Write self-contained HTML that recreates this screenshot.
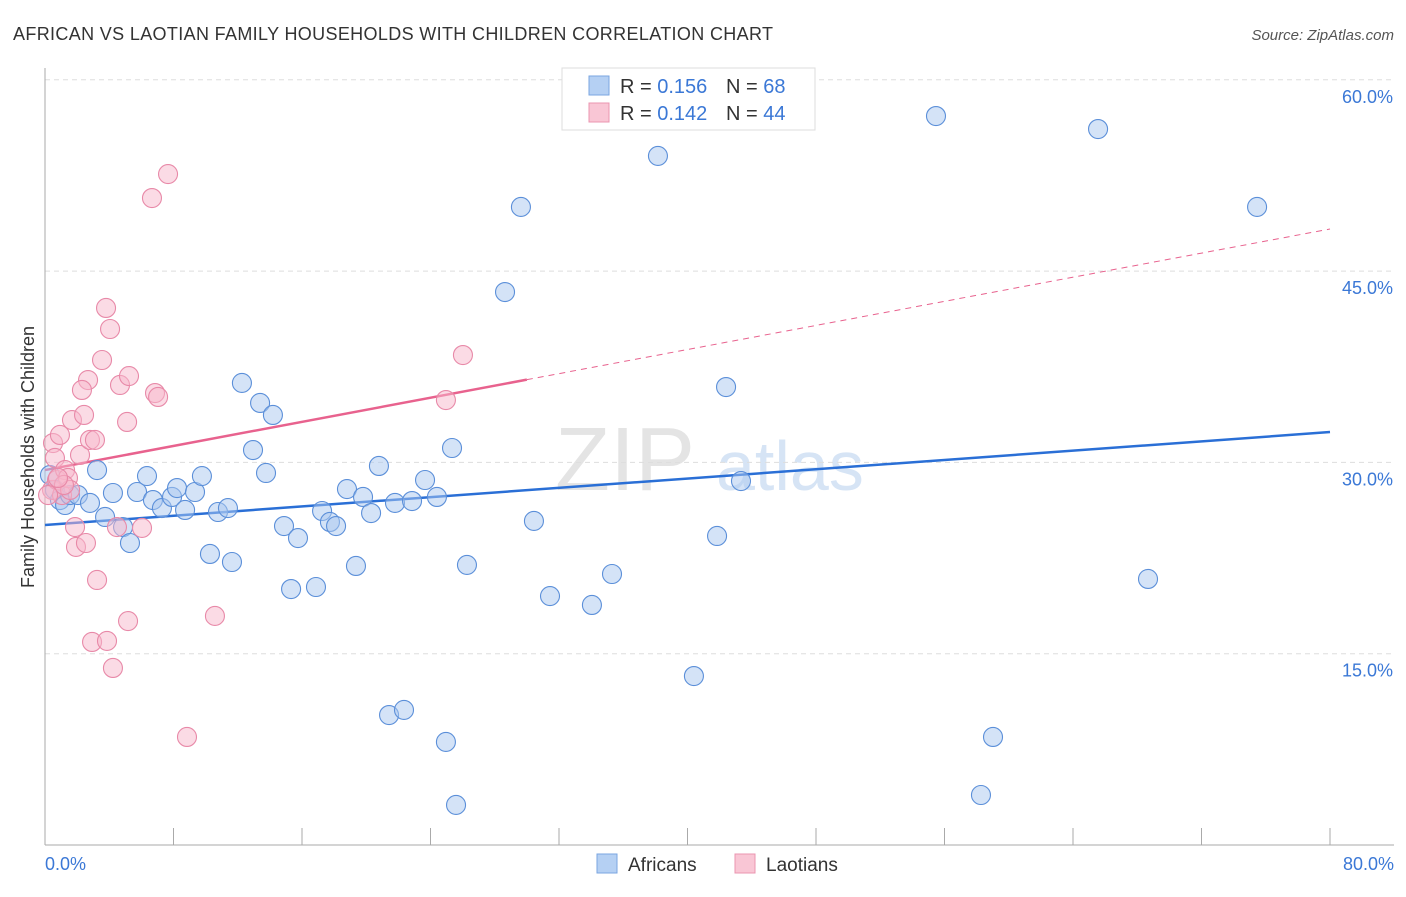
<!DOCTYPE html>
<html><head><meta charset="utf-8"><style>
body{margin:0;background:#fff;font-family:"Liberation Sans",sans-serif}
svg text{font-family:"Liberation Sans",sans-serif}
</style></head><body>
<svg id="c" width="1406" height="892" viewBox="0 0 1406 892">
<text x="13" y="40" font-size="18" fill="#333" textLength="760">AFRICAN VS LAOTIAN FAMILY HOUSEHOLDS WITH CHILDREN CORRELATION CHART</text>
<text x="1394" y="40" font-size="15" fill="#555" text-anchor="end" font-style="italic">Source: ZipAtlas.com</text>
<text x="34" y="457" font-size="18" fill="#333" text-anchor="middle" transform="rotate(-90 34 457)">Family Households with Children</text>
<text x="555" y="490" font-size="90" fill="#e4e4e4" font-family="Liberation Serif">ZIP</text>
<text x="716" y="490" font-size="70" fill="#d6e4f5">atlas</text>
<g id="grid"></g><g id="axes"></g><g id="lines"></g><g id="pts"></g>
<g>
<rect x="562" y="68" width="253" height="62" fill="#fff" stroke="#ddd"/>
<rect x="589" y="76" width="20" height="19" fill="#b5d0f3" stroke="#7aa6e0"/>
<rect x="589" y="103" width="20" height="19" fill="#f9c6d5" stroke="#eb95b0"/>
<text x="620" y="93" font-size="20" fill="#333">R = <tspan fill="#3b78d6">0.156</tspan></text>
<text x="726" y="93" font-size="20" fill="#333">N = <tspan fill="#3b78d6"> 68</tspan></text>
<text x="620" y="120" font-size="20" fill="#333">R = <tspan fill="#3b78d6">0.142</tspan></text>
<text x="726" y="120" font-size="20" fill="#333">N = <tspan fill="#3b78d6"> 44</tspan></text>
</g>
<g>
<rect x="597" y="854" width="20" height="19" fill="#b5d0f3" stroke="#7aa6e0"/>
<text x="628" y="871" font-size="19" fill="#333">Africans</text>
<text x="766" y="871" font-size="19" fill="#333">Laotians</text>
<rect x="735" y="854" width="20" height="19" fill="#f9c6d5" stroke="#eb95b0"/>
</g>
</svg>
<script>
const yTicks=[15,30,45,60];
const yTickLabels=["15.0%","30.0%","45.0%","60.0%"];
const xTicks=[0,8,16,24,32,40,48,56,64,72,80];
const xEndLabels=["0.0%","80.0%"];
const africanPx=[[50,475],[55,490],[60,500],[65,505],[70,495],[78,495],[90,503],[97,470],[105,517],[113,493],[123,527],[130,543],[137,492],[147,476],[153,500],[162,508],[172,497],[177,488],[185,510],[195,492],[202,476],[210,554],[218,512],[228,508],[232,562],[242,383],[253,450],[260,403],[266,473],[273,415],[284,526],[291,589],[298,538],[316,587],[322,511],[330,522],[336,526],[347,489],[356,566],[363,497],[371,513],[379,466],[389,715],[395,503],[404,710],[412,501],[425,480],[437,497],[446,742],[452,448],[456,805],[467,565],[505,292],[521,207],[534,521],[550,596],[592,605],[612,574],[658,156],[694,676],[717,536],[726,387],[741,481],[936,116],[981,795],[993,737],[1098,129],[1148,579],[1257,207]];
const laotianPx=[[52,490],[53,443],[55,458],[57,480],[60,435],[62,495],[65,470],[68,478],[70,490],[72,420],[75,527],[76,547],[80,455],[84,415],[86,543],[88,380],[90,440],[92,642],[95,440],[97,580],[102,360],[106,308],[107,641],[110,329],[113,668],[117,527],[120,385],[127,422],[128,621],[129,376],[152,198],[155,393],[158,397],[168,174],[187,737],[215,616],[142,528],[82,390],[446,400],[463,355],[64,485],[58,478],[48,495]];
const africanX=africanPx.map(p=>+((p[0]-45)/1285*80).toFixed(2));
const africanY=africanPx.map(p=>+((845-p[1])/191.3*15).toFixed(2));
const laotianX=laotianPx.map(p=>+((p[0]-45)/1285*80).toFixed(2));
const laotianY=laotianPx.map(p=>+((845-p[1])/191.3*15).toFixed(2));
const africanTrend=[25.09,32.38];
const laotianTrend=[29.4,48.3];
const laotianSolidEnd=30;

const NS="http://www.w3.org/2000/svg";
const X=v=>45+v/80*1285, Y=v=>845-v/15*191.3;
function mk(tag,attrs,parent){const e=document.createElementNS(NS,tag);for(const k in attrs)e.setAttribute(k,attrs[k]);document.getElementById(parent).appendChild(e);return e;}
yTicks.forEach((t,i)=>{
 const l=mk('line',{x1:45,x2:1394,y1:Y(t),y2:Y(t),stroke:'#ddd','stroke-dasharray':'5,4'},'grid');
 
 
 const tx=mk('text',{x:1393,y:Y(t)+23,'font-size':18,fill:'#3b78d6','text-anchor':'end'},'grid');
 tx.textContent=yTickLabels[i];
 
 
});
const ya=mk('line',{x1:45,x2:45,y1:68,y2:845,stroke:'#aaa'},'axes');


const xa=mk('line',{x1:45,x2:1394,y1:845,y2:845,stroke:'#aaa'},'axes');


xTicks.forEach(t=>{
 const l=mk('line',{x1:X(t),x2:X(t),y1:828,y2:845,stroke:'#aaa'},'axes');
 
 
});
[[0,'start',45],[80,'end',1394]].forEach((d,i)=>{
 const tx=mk('text',{x:d[2],y:870,'font-size':18,fill:'#3b78d6','text-anchor':d[1]},'axes');
 tx.textContent=xEndLabels[i];
 
 
});
function drawPts(xs,ys,fill,stroke,name){
 xs.forEach((x,i)=>{
  const c=mk('circle',{cx:X(x),cy:Y(ys[i]),r:9.5,fill:fill,'fill-opacity':0.5,stroke:stroke,'stroke-width':1.1},'pts');
  
  
 });
}
drawPts(africanX,africanY,'#a9c8f0','#5b8fd9','african-point');
drawPts(laotianX,laotianY,'#f7b8cb','#e889a8','laotian-point');
const bt=mk('line',{x1:X(0),y1:Y(africanTrend[0]),x2:X(80),y2:Y(africanTrend[1]),stroke:'#2a6fd6','stroke-width':2.5},'lines');


const pm=v=>laotianTrend[0]+(laotianTrend[1]-laotianTrend[0])*v/80;
const pt=mk('line',{x1:X(0),y1:Y(pm(0)),x2:X(laotianSolidEnd),y2:Y(pm(laotianSolidEnd)),stroke:'#e8628e','stroke-width':2.5},'lines');


const pd=mk('line',{x1:X(laotianSolidEnd),y1:Y(pm(laotianSolidEnd)),x2:X(80),y2:Y(pm(80)),stroke:'#e8628e','stroke-width':1,'stroke-dasharray':'6,5'},'lines');


</script>
</body></html>
